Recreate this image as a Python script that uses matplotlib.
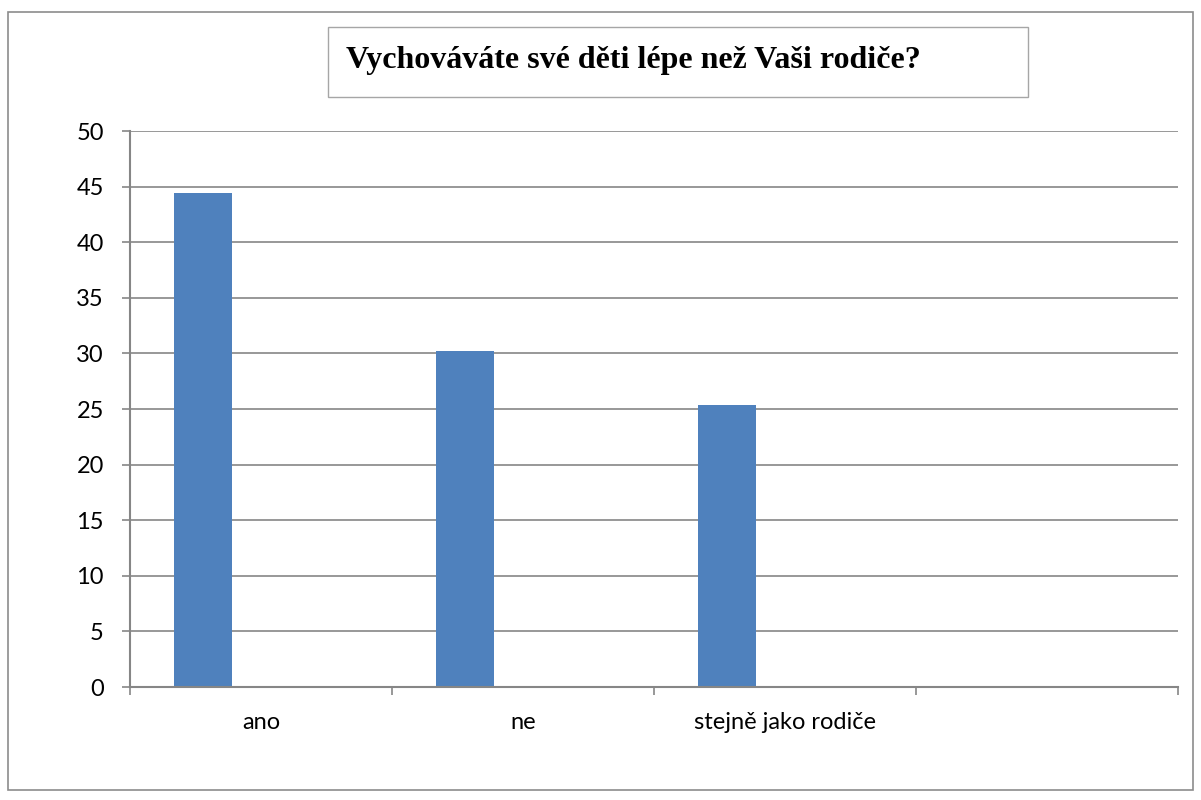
import matplotlib
matplotlib.use("Agg")
import matplotlib.pyplot as plt
from matplotlib.patches import Rectangle

categories = ["ano", "ne", "stejně jako rodiče", ""]
values = [44.4, 30.2, 25.4, None]
yticks = [0, 5, 10, 15, 20, 25, 30, 35, 40, 45, 50]
title = "Vychováváte své děti lépe než Vaši rodiče?"

W, H = 1201, 800
fig = plt.figure(figsize=(W / 100, H / 100), dpi=100)
fig.patch.set_facecolor("white")

# outer border
fig.add_artist(Rectangle((8 / W, 1 - 790 / H), (1193 - 8) / W, (790 - 12) / H,
                         transform=fig.transFigure, fill=False,
                         edgecolor="#8c8c8c", linewidth=1.2))
# title box
fig.add_artist(Rectangle((328 / W, 1 - 97 / H), (1028 - 328) / W, (97 - 27) / H,
                         transform=fig.transFigure, fill=False,
                         edgecolor="#a6a6a6", linewidth=1.0))
fig.text(346 / W, 1 - 68 / H, title, ha="left", va="baseline",
         fontsize=23, fontweight="bold", family="Liberation Serif")

ax = fig.add_axes([130 / W, 1 - 687 / H, (1178 - 130) / W, (687 - 131) / H])
n = len(categories)
width = 1 / 4.5
offset = 0.75 * width + width / 2
xs = [i + offset for i, v in enumerate(values) if v is not None]
hs = [v for v in values if v is not None]
ax.bar(xs, hs, width=width, color="#4F81BD", zorder=3)

ax.set_xlim(0, n)
ax.set_ylim(0, 50)
ax.set_yticks(yticks)
ax.set_yticklabels([str(t) for t in yticks], fontsize=17, family="Lato")
ax.set_xticks(range(n + 1))
ax.set_xticklabels([])
ax.set_xticks([i + 0.5 for i in range(n)], minor=True)
ax.set_xticklabels(categories, minor=True, fontsize=17, family="Lato")
ax.tick_params(axis="x", which="minor", length=0, pad=18)
ax.tick_params(axis="x", which="major", length=5.8, color="#868686", width=1.2)
ax.tick_params(axis="y", length=5.8, color="#868686", width=1.2, pad=13)
ax.yaxis.grid(True, color="#868686", linewidth=1.2, zorder=0)
for s in ["top", "right"]:
    ax.spines[s].set_visible(False)
for s in ["left", "bottom"]:
    ax.spines[s].set_color("#868686")
    ax.spines[s].set_linewidth(1.5)
    ax.spines[s].set_zorder(4)

fig.savefig("out.png", dpi=100)
